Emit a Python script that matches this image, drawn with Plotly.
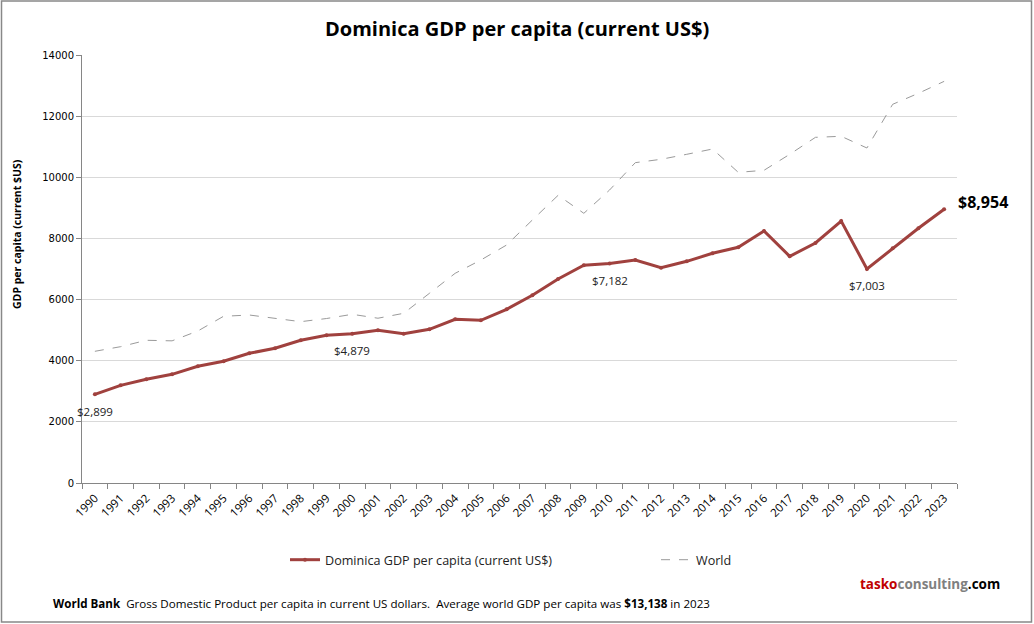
import plotly.graph_objects as go

years = [str(y) for y in range(1990, 2024)]
dominica = [2899, 3195, 3392, 3555, 3817, 3981, 4242, 4406, 4668, 4831,
            4879, 4995, 4885, 5027, 5354, 5322, 5682, 6140, 6673, 7121,
            7182, 7294, 7044, 7251, 7513, 7710, 8243, 7415, 7850, 8570,
            7003, 7677, 8331, 8954]
world = [4308, 4459, 4668, 4650, 4972, 5453, 5495, 5387, 5277, 5380,
         5518, 5390, 5551, 6205, 6859, 7294, 7785, 8603, 9410, 8822,
         9584, 10478, 10588, 10752, 10925, 10162, 10228, 10752, 11307, 11341,
         10958, 12387, 12747, 13138]
y_ticks = [0, 2000, 4000, 6000, 8000, 10000, 12000, 14000]
labelled_years = ["1990", "2000", "2010", "2020"]

RED = "#A0413E"
FONT = "Open Sans"

# plot area in pixels
L, R, T, B = 82, 957, 55, 483
W, H = 1034, 624


def px(xp):
    return (xp - L) / (R - L)


def py(yp):
    return (B - yp) / (B - T)


fig = go.Figure()
fig.add_trace(go.Scatter(
    x=years, y=dominica, name="Dominica GDP per capita (current US$)",
    mode="lines+markers", line=dict(color=RED, width=3),
    marker=dict(size=4, color=RED), legend="legend"))
fig.add_trace(go.Scatter(
    x=years, y=world, name="World", mode="lines",
    line=dict(color="#9a9a9a", width=1, dash="dash"), legend="legend2"))

for yr in labelled_years:
    i = years.index(yr)
    fig.add_annotation(x=i, y=dominica[i], text="$" + f"{dominica[i]:,}", showarrow=False,
                       yshift=-17, font=dict(family=FONT, size=11.5, color="#222"))
fig.add_annotation(x=len(years) - 1, y=dominica[-1], text="<b>$" + f"{dominica[-1]:,}" + "</b>",
                   showarrow=False, xanchor="left", xshift=12, yshift=7,
                   font=dict(family=FONT, size=16, color="#000"))

fig.add_annotation(xref="paper", yref="paper", x=px(517), y=py(28), yanchor="middle",
                   text="<b>Dominica GDP per capita (current US$)</b>",
                   showarrow=False, font=dict(family=FONT, size=20, color="#000"))
fig.add_annotation(xref="paper", yref="paper", x=px(17), y=py(234), textangle=-90,
                   xanchor="center", yanchor="middle", showarrow=False,
                   text="<b>GDP per capita (current $US)</b>",
                   font=dict(family=FONT, size=10.5, color="#000"))
fig.add_annotation(xref="paper", yref="paper", x=px(1002), y=py(584),
                   xanchor="right", yanchor="middle", showarrow=False,
                   text="<b><span style='color:#C00000'>tasko</span><span style='color:#808080'>consulting</span>.com</b>",
                   font=dict(family=FONT, size=13.5, color="#000"))
fig.add_annotation(xref="paper", yref="paper", x=px(51), y=py(603),
                   xanchor="left", yanchor="middle", showarrow=False,
                   text="<b>World Bank</b>  Gross Domestic Product per capita in current US dollars.  Average world GDP per capita was <b>$13,138</b> in 2023",
                   font=dict(family=FONT, size=11.6, color="#000"))

fig.add_shape(type="rect", xref="paper", yref="paper",
              x0=px(1.5), x1=px(1031.5), y0=py(622), y1=py(1),
              line=dict(color="#888", width=1.5), fillcolor="rgba(0,0,0,0)", layer="below")

legend_common = dict(orientation="h", xanchor="left", y=py(560), yanchor="middle",
                     font=dict(family=FONT, size=12.6, color="#222"),
                     bgcolor="rgba(0,0,0,0)")

fig.update_layout(
    width=W, height=H,
    margin=dict(l=L, r=W - R, t=T, b=H - B),
    paper_bgcolor="white", plot_bgcolor="white",
    font=dict(family=FONT, size=11, color="#000"),
    showlegend=True,
    legend=dict(x=px(285), **legend_common),
    legend2=dict(x=px(656), **legend_common),
    xaxis=dict(type="category", range=[-0.5, len(years) - 0.5], tickangle=-45,
               showline=True, linecolor="#868686", linewidth=1,
               ticks="outside", tickson="boundaries", ticklen=5, tickcolor="#868686",
               ticklabelstandoff=3,
               showgrid=False, tickfont=dict(family=FONT, size=11.5, color="#000")),
    yaxis=dict(range=[0, 14000], tickvals=y_ticks, ticktext=[str(v) for v in y_ticks],
               showline=True, linecolor="#868686", linewidth=1,
               ticks="outside", ticklen=5, tickcolor="#868686",
               showgrid=True, gridcolor="#d9d9d9", gridwidth=1, zeroline=False,
               tickfont=dict(family="DejaVu Sans", size=10, color="#000")),
)

fig.write_html("out.html", config={"displayModeBar": False},
               post_script="document.body.style.margin='0px';document.body.style.padding='0px';")
